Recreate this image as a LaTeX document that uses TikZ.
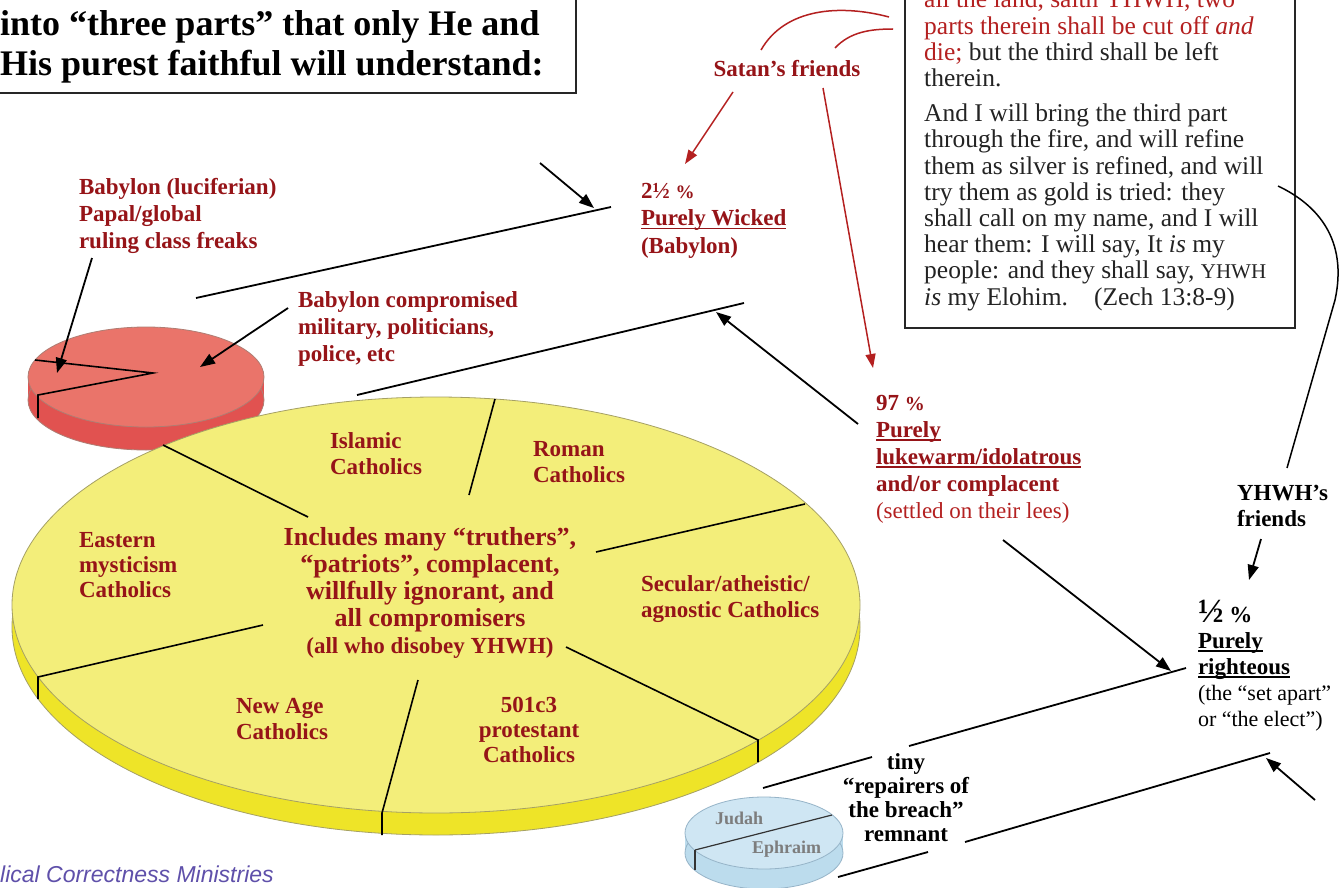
\documentclass[tikz,border=0pt]{standalone}
\usepackage{fontspec}
\setmainfont{Liberation Serif}
\newfontfamily\footfont{Liberation Sans}
\usetikzlibrary{arrows.meta}
\definecolor{dred}{RGB}{150,20,24}
\definecolor{qred}{RGB}{180,32,32}
\definecolor{qtext}{RGB}{35,35,35}
\definecolor{ytop}{RGB}{243,238,122}
\definecolor{yside}{RGB}{238,228,40}
\definecolor{yedge}{RGB}{165,160,100}
\definecolor{rtop}{RGB}{234,116,106}
\definecolor{rside}{RGB}{225,82,80}
\definecolor{redge}{RGB}{175,125,115}
\definecolor{btop}{RGB}{207,230,243}
\definecolor{bside}{RGB}{188,220,237}
\definecolor{bedge}{RGB}{150,180,200}
\definecolor{jgray}{RGB}{125,125,125}
\definecolor{footc}{RGB}{95,80,170}
\newcommand\blockL[1]{\vtop{\halign{##\hfil\cr#1\crcr}}}
\newcommand\blockC[1]{\vtop{\halign{\hfil##\hfil\cr#1\crcr}}}
\newcommand\myul[1]{\setbox0=\hbox{#1}\rlap{\rule[-3.5pt]{\wd0}{1.5pt}}\box0}
\newcommand\myfs[2]{\fontsize{#1}{#2}\selectfont}
\tikzset{
  lab/.style={inner sep=0pt, outer sep=0pt, text=dred, font=\bfseries\myfs{23}{27}},
  blab/.style={lab, text=black},
  bl/.style={line width=1.8pt, black},
  bla/.style={bl, -{Triangle[length=15pt,width=11pt]}},
  rl/.style={line width=1.5pt, qred},
  rla/.style={rl, -{Triangle[length=14pt,width=10pt]}},
  boxl/.style={line width=2pt, black!85},
  pieline/.style={line width=1.6pt, black},
}
\begin{document}
\begin{tikzpicture}[x=1pt, y=-1pt]
\useasboundingbox (0,0) rectangle (1343,888);
\fill[white] (0,0) rectangle (1343,888);

% ---------- red pie (Babylon) ----------
\fill[rside] (146,400) ellipse (118 and 50);
\fill[rside] (28,377) rectangle (264,400);
\draw[redge, line width=0.8pt] (146,400) ellipse (118 and 50);
\filldraw[fill=rtop, draw=redge, line width=0.8pt] (146,377) ellipse (118 and 50);
\draw[pieline] (35,360) -- (153,373) -- (38,395) -- (38,418);

% ---------- yellow pie ----------
\fill[yside] (436,627) ellipse (424 and 208);
\fill[yside] (12,605) rectangle (860,627);
\draw[yedge, line width=0.8pt] (436,627) ellipse (424 and 208);
\filldraw[fill=ytop, draw=yedge, line width=0.8pt] (436,605) ellipse (424 and 208);
\draw[pieline] (163,445) -- (308,517);
\draw[pieline] (469,495) -- (495,399);
\draw[pieline] (596,552) -- (805,504);
\draw[pieline] (566,647) -- (758,740) -- (758,762);
\draw[pieline] (418,680) -- (382,813) -- (382,835);
\draw[pieline] (263,625) -- (38,677) -- (38,699);

% ---------- blue pie (remnant) ----------
\fill[bside] (764,853) ellipse (79 and 36);
\fill[bside] (685,833) rectangle (843,853);
\draw[bedge, line width=0.8pt] (764,853) ellipse (79 and 36);
\filldraw[fill=btop, draw=bedge, line width=0.8pt] (764,833) ellipse (79 and 36);
\draw[line width=1.2pt, black!80] (695,850) -- (832,815);
\draw[line width=1.2pt, black!80] (695,850) -- (695,870);

% ---------- title box ----------
\draw[boxl] (-3,-3) rectangle (576,93);
\node[inner sep=0pt, anchor=base west, font=\bfseries\myfs{36}{40}] (title) at (0,36)
  {\blockL{into “three parts” that only He and\cr His purest faithful will understand:\cr}};

% ---------- quote box ----------
\draw[boxl] (905,-5) rectangle (1295,328);
\node[inner sep=0pt, anchor=base west, text=qtext, font=\myfs{25.5}{26.2}] (quote) at (924,8)
  {\blockL{{\color{qred}all the land, saith YHWH, two}\cr
  {\color{qred}parts therein shall be cut off \textit{and}}\cr
  {\color{qred}die;} but the third shall be left\cr
  therein.\cr
  \noalign{\vskip 9pt}
  And I will bring the third part\cr
  through the fire, and will refine\cr
  them as silver is refined, and will\cr
  try them as gold is tried: they\cr
  shall call on my name, and I will\cr
  hear them: I will say, It \textit{is} my\cr
  people: and they shall say, {\myfs{21}{26.2}YHWH}\cr
  \textit{is} my Elohim.\hspace{26pt}(Zech 13:8-9)\cr}};

% ---------- labels ----------
\node[lab, anchor=base] (satan) at (787,77) {Satan’s friends};
\node[lab, anchor=base west, font=\bfseries\myfs{23}{27.5}] (wick) at (641,198)
  {\blockL{2½ {\myfs{19}{20}\%}\cr \myul{Purely Wicked}\cr (Babylon)\cr}};
\node[lab, anchor=base west] (luci) at (79,194)
  {\blockL{Babylon (luciferian)\cr Papal/global\cr ruling class freaks\cr}};
\node[lab, anchor=base west] (comp) at (298,307)
  {\blockL{Babylon compromised\cr military, politicians,\cr police, etc\cr}};
\node[lab, anchor=base west, font=\bfseries\myfs{23}{26}] (islam) at (330,448)
  {\blockL{Islamic\cr Catholics\cr}};
\node[lab, anchor=base west, font=\bfseries\myfs{23}{26}] (roman) at (533,456)
  {\blockL{Roman\cr Catholics\cr}};
\node[lab, anchor=base west, font=\bfseries\myfs{23}{25}] (east) at (79,547)
  {\blockL{Eastern\cr mysticism\cr Catholics\cr}};
\node[lab, anchor=base, font=\bfseries\myfs{26}{27}] (incl) at (430,545)
  {\blockC{Includes many “truthers”,\cr “patriots”, complacent,\cr willfully ignorant, and\cr all compromisers\cr {\myfs{23}{27}(all who disobey YHWH)}\cr}};
\node[lab, anchor=base west, font=\bfseries\myfs{23}{26}] (secu) at (641,591)
  {\blockL{Secular/atheistic/\cr agnostic Catholics\cr}};
\node[lab, anchor=base west, font=\bfseries\myfs{23}{26}] (newage) at (236,713)
  {\blockL{New Age\cr Catholics\cr}};
\node[lab, anchor=base, font=\bfseries\myfs{23}{25}] (prot) at (529,712)
  {\blockC{501c3\cr protestant\cr Catholics\cr}};
\node[lab, anchor=base west, font=\bfseries\myfs{23}{27.2}] (luke) at (876,410)
  {\blockL{97 {\myfs{20}{20}\%}\cr \myul{Purely}\cr \myul{lukewarm/idolatrous}\cr and/or complacent\cr {\mdseries\color{qred}(settled on their lees)}\cr}};
\node[blab, anchor=base west, font=\bfseries\myfs{23}{26}] (yfr) at (1237,500)
  {\blockL{YHWH’s\cr friends\cr}};
\node[blab, anchor=base west, font=\bfseries\myfs{23}{26}] (righ) at (1198,622)
  {\blockL{{\myfs{34}{34}½} \%\cr \myul{Purely}\cr \myul{righteous}\cr {\mdseries\myfs{22}{26}(the “set apart”}\cr {\mdseries\myfs{22}{26}or “the elect”)}\cr}};
\node[blab, anchor=base, font=\bfseries\myfs{23}{24}] (rem) at (906,769)
  {\blockC{tiny\cr “repairers of\cr the breach”\cr remnant\cr}};
\node[lab, text=jgray, anchor=base west, font=\bfseries\myfs{18}{20}] (judah) at (715,824) {Judah};
\node[lab, text=jgray, anchor=base west, font=\bfseries\myfs{18}{20}] (ephr) at (752,853) {Ephraim};
\node[inner sep=0pt, anchor=base west, text=footc, font=\footfont\itshape\myfs{23}{25}] (foot) at (0,882)
  {lical Correctness Ministries};

% ---------- connector end points ----------
\coordinate (s1a) at (761,50);  \coordinate (s1b) at (889,17);
\coordinate (s2a) at (835,48);  \coordinate (s2b) at (893,29);
\coordinate (r1s) at (733,92);  \coordinate (r1e) at (685,164);
\coordinate (r2s) at (823,88);  \coordinate (r2e) at (873,368);
\coordinate (b1s) at (196,298); \coordinate (b1e) at (611,207);
\coordinate (a1s) at (540,163); \coordinate (a1e) at (594,208);
\coordinate (b2s) at (357,395); \coordinate (b2e) at (744,303);
\coordinate (a2s) at (858,424); \coordinate (a2e) at (716,312);
\coordinate (a3s) at (1003,540); \coordinate (a3e) at (1171,671);
\coordinate (b3s) at (909,746); \coordinate (b3e) at (1186,668);
\coordinate (b4s) at (763,788); \coordinate (b4e) at (872,757);
\coordinate (b5s) at (965,842); \coordinate (b5e) at (1270,753);
\coordinate (a4s) at (1315,800); \coordinate (a4e) at (1266,758);
\coordinate (b6s) at (838,877); \coordinate (b6e) at (928,852);
\coordinate (ys) at (1278,186); \coordinate (ym) at (1335,300); \coordinate (ye) at (1287,468);
\coordinate (a5s) at (1261,539); \coordinate (a5e) at (1249,580);
\coordinate (a6s) at (92,258);  \coordinate (a6e) at (57,373);
\coordinate (a7s) at (288,308); \coordinate (a7e) at (200,367);

% ---------- red connectors ----------
\draw[rl] (s1a) .. controls (785,8) and (840,4) .. (s1b);
\draw[rl] (s2a) .. controls (850,32) and (870,29) .. (s2b);
\draw[rla] (r1s) -- (r1e);
\draw[rla] (r2s) -- (r2e);

% ---------- black connectors ----------
\draw[bl] (b1s) -- (b1e);
\draw[bla] (a1s) -- (a1e);
\draw[bl] (b2s) -- (b2e);
\draw[bla] (a2s) -- (a2e);
\draw[bla] (a3s) -- (a3e);
\draw[bl] (b3s) -- (b3e);
\draw[bl] (b4s) -- (b4e);
\draw[bl] (b5s) -- (b5e);
\draw[bla] (a4s) -- (a4e);
\draw[bl] (b6s) -- (b6e);
\draw[line width=1.5pt] (ys) .. controls (1318,205) and (1348,240) .. (ym) -- (ye);
\draw[bla] (a5s) -- (a5e);
\draw[bla] (a6s) -- (a6e);
\draw[bla] (a7s) -- (a7e);
\end{tikzpicture}
\end{document}
